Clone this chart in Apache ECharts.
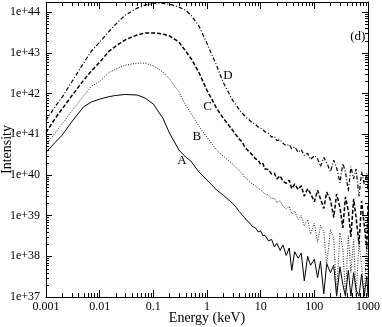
<!DOCTYPE html>
<html>
<head>
<meta charset="utf-8">
<script src="https://cdn.jsdelivr.net/npm/echarts@6/dist/echarts.min.js"></script>
<style>
  html, body { margin: 0; padding: 0; background: #fff; }
  #chart { width: 382px; height: 327px; }
</style>
</head>
<body>
<div id="chart"></div>
<script>
// energy grid (keV), shared by all four spectra
const energy = [
  0.001, 0.0015, 0.002, 0.003, 0.005, 0.007, 0.01, 0.015, 0.02, 0.03, 0.05,
  0.07, 0.1, 0.15, 0.2, 0.3, 0.4, 0.5, 0.7, 1, 1.5, 2,
  3, 3.5, 4, 4.5, 5, 5.5, 6, 7, 8, 9, 10, 11, 12, 14, 16, 18, 20, 23, 26,
  30, 34, 38, 43, 50, 57, 65, 75, 85, 100, 115, 130, 150, 170, 200, 230,
  260, 300, 340, 380, 430, 480, 540, 600, 680, 760, 850, 950, 1000
]

const curveA = [
  3.6e40, 6.4e40, 9.5e40, 2.0e41, 4.7e41, 6.2e41, 7.3e41, 8.4e41, 9.0e41, 9.5e41, 9.2e41,
  7.8e41, 5.5e41, 2.5e41, 1.07e41, 4.1e40, 2.75e40, 2.2e40, 1.2e40, 7.5e39, 4.3e39, 3.2e39,
  2.0e39, 1.6e39, 1.25e39, 1.05e39, 9.0e38, 7.6e38, 7.0e38, 5.4e38, 5.0e38, 4.0e38, 4.2e38,
  3.2e38, 3.3e38, 2.4e38, 2.6e38, 1.7e38, 2.1e38, 1.4e38, 1.9e38, 1.05e38, 1.6e38, 4.5e37,
  1.3e38, 9.0e37, 1.2e38, 2.5e37, 1.0e38, 6.0e37, 8.5e37, 3.0e37, 7.5e37, 1.2e37, 6.5e37,
  4.0e37, 6.0e37, 1.05e37, 5.5e37, 2.0e37, 1.05e37, 4.5e37, 1.05e37, 4.0e37, 1.5e37,
  1.05e37, 3.6e37, 1.05e37, 3.2e37, 1.05e37
]

const curveB = [
  5.4e40, 1.1e41, 1.8e41, 3.7e41, 8.7e41, 1.5e42, 2.0e42, 3.3e42, 4.0e42, 5.0e42, 5.6e42,
  5.6e42, 4.8e42, 3.4e42, 2.3e42, 1.1e42, 5.2e41, 3.3e41, 1.6e41, 8.5e40, 4.1e40, 2.9e40,
  1.85e40, 1.5e40, 1.25e40, 1.1e40, 8.9e39, 8.2e39, 7.2e39, 6.0e39, 5.4e39, 4.6e39, 4.3e39,
  3.8e39, 3.4e39, 3.2e39, 2.6e39, 2.7e39, 2.1e39, 2.3e39, 1.7e39, 1.5e39, 1.7e39, 1.1e39,
  1.3e39, 8.0e38, 1.0e39, 5.5e38, 8.0e38, 3.5e38, 6.5e38, 2.2e38, 5.8e38, 4.0e38, 6.0e37,
  4.6e38, 2.8e38, 1.1e37, 3.8e38, 1.5e38, 1.05e37, 3.2e38, 4.0e37, 2.6e38, 1.05e37,
  2.2e38, 6.0e37, 1.05e37, 1.9e38, 3.0e37
]

const curveC = [
  1.1e41, 2.5e41, 4.2e41, 8.7e41, 2.1e42, 3.6e42, 5.9e42, 1.1e43, 1.47e43, 2.1e43, 2.75e43,
  3.1e43, 3.1e43, 2.9e43, 2.6e43, 1.85e43, 1.1e43, 7.4e42, 3.4e42, 1.2e42, 4.4e41, 2.5e41,
  1.26e41, 9.5e40, 7.6e40, 6.5e40, 5.0e40, 4.3e40, 3.8e40, 3.1e40, 2.5e40, 2.3e40, 1.8e40,
  1.9e40, 1.4e40, 1.35e40, 1.05e40, 1.1e40, 8.0e39, 9.5e39, 7.0e39, 6.2e39, 7.4e39, 4.6e39,
  6.0e39, 4.4e39, 5.4e39, 3.0e39, 4.6e39, 3.5e39, 2.2e39, 4.2e39, 2.6e39, 1.5e39, 3.8e39,
  2.4e39, 9.0e38, 3.4e39, 1.6e39, 5.0e38, 2.9e39, 1.3e39, 3.0e38, 2.6e39, 9.0e38,
  2.0e38, 2.3e39, 6.0e38, 1.5e38, 1.9e39
]

const curveD = [
  2.2e41, 4.9e41, 8.2e41, 1.9e42, 5.6e42, 1.1e43, 1.85e43, 3.4e43, 5.1e43, 8.5e43, 1.26e44,
  1.49e44, 1.66e44, 1.66e44, 1.58e44, 1.33e44, 1.12e44, 8.5e43, 4.7e43, 1.7e43, 5.0e42, 1.9e42,
  6.9e41, 5.2e41, 4.0e41, 3.3e41, 2.9e41, 2.5e41, 2.3e41, 1.9e41, 1.75e41, 1.5e41, 1.4e41,
  1.3e41, 1.15e41, 1.05e41, 8.5e40, 9.0e40, 7.0e40, 7.4e40, 6.0e40, 5.2e40, 5.6e40, 4.4e40,
  4.9e40, 3.6e40, 4.2e40, 3.0e40, 3.4e40, 2.4e40, 3.0e40, 2.5e40, 1.6e40, 2.7e40, 2.0e40,
  1.2e40, 2.3e40, 1.5e40, 6.5e39, 1.9e40, 1.2e40, 4.0e39, 1.6e40, 8.0e39, 1.4e40,
  3.0e39, 1.2e40, 6.0e39, 1.1e40, 3.5e39
]

// curve tags and panel tag: [energy, intensity, text]
const tags = [
  [0.34, 2.2e40, 'A'],
  [0.65, 8.8e40, 'B'],
  [1.02, 4.7e41, 'C'],
  [2.45, 2.8e42, 'D'],
  [646, 2.5e43, '(d)']
]

const xMin = 0.001
const xMax = 1000
const yMin = 1e37
const yMax = 1.78e44

const font = 'Liberation Serif'

// minor tick positions for the log axes (2..9 in each decade)
const xMinor = []
for (let p = -3; p < 3; p++) {
  for (let m = 2; m <= 9; m++) xMinor.push(m * Math.pow(10, p))
}
const yMinor = []
for (let p = 37; p < 45; p++) {
  for (let m = 2; m <= 9; m++) {
    const v = m * Math.pow(10, p)
    if (v < yMax) yMinor.push(v)
  }
}

function isPow10(v) {
  const e = Math.log10(v)
  return Math.abs(e - Math.round(e)) < 1e-6
}

function xLabel(v) {
  if (!isPow10(v)) return ''
  return String(+v.toPrecision(3))
}

function yLabel(v) {
  if (!isPow10(v)) return ''
  return '1e+' + Math.round(Math.log10(v))
}

function makeLine(name, data, lineStyle) {
  return {
    name: name,
    type: 'line',
    xAxisIndex: 0,
    yAxisIndex: 0,
    data: energy.map((e, i) => [e, data[i]]),
    showSymbol: false,
    symbol: 'none',
    smooth: false,
    clip: true,
    lineStyle: Object.assign({ color: '#000', width: 1 }, lineStyle),
    animation: false,
    z: 3
  }
}

const tickStyle = { stroke: '#000', lineWidth: 1 }

const chart = echarts.init(document.getElementById('chart'), null, { renderer: 'canvas' })

chart.setOption({
  backgroundColor: '#fff',
  animation: false,
  grid: { left: 46, right: 14, top: 2, bottom: 30, containLabel: false, outerBoundsMode: 'none' },
  xAxis: [
    {
      type: 'log',
      min: xMin,
      max: xMax,
      logBase: 10,
      interval: 1,
      name: 'Energy (keV)',
      nameLocation: 'middle',
      nameGap: 14,
      nameMoveOverlap: false,
      nameTextStyle: { fontFamily: font, fontSize: 14, color: '#000' },
      axisLine: { show: true, lineStyle: { color: '#000', width: 1 } },
      axisTick: { show: true, inside: true, length: 7, lineStyle: { color: '#000' } },
      axisLabel: { fontFamily: font, fontSize: 12, color: '#000', margin: 4, formatter: xLabel },
      splitLine: { show: false }
    },
    {
      type: 'log',
      position: 'top',
      min: xMin,
      max: xMax,
      interval: 1,
      axisLine: { show: true, lineStyle: { color: '#000', width: 1 } },
      axisTick: { show: true, inside: true, length: 7, lineStyle: { color: '#000' } },
      axisLabel: { show: false },
      splitLine: { show: false }
    }
  ],
  yAxis: [
    {
      type: 'log',
      min: yMin,
      max: yMax,
      logBase: 10,
      interval: 1,
      name: 'Intensity',
      nameLocation: 'middle',
      nameGap: 32,
      nameMoveOverlap: false,
      nameTextStyle: { fontFamily: font, fontSize: 14, color: '#000' },
      axisLine: { show: true, lineStyle: { color: '#000', width: 1 } },
      axisTick: { show: true, inside: true, length: 6, lineStyle: { color: '#000' } },
      axisLabel: { fontFamily: font, fontSize: 12, color: '#000', margin: 6, formatter: yLabel },
      splitLine: { show: false }
    },
    {
      type: 'log',
      position: 'right',
      min: yMin,
      max: yMax,
      interval: 1,
      axisLine: { show: true, lineStyle: { color: '#000', width: 1 } },
      axisTick: { show: true, inside: true, length: 6, lineStyle: { color: '#000' } },
      axisLabel: { show: false },
      splitLine: { show: false }
    }
  ],
  series: [
    makeLine('A', curveA, { type: 'solid', width: 1 }),
    makeLine('B', curveB, { type: [1, 1.5], width: 1, color: '#222' }),
    makeLine('C', curveC, { type: [4, 2], width: 1.5 }),
    makeLine('D', curveD, { type: [4, 2, 1, 2], width: 1.2 }),
    {
      type: 'custom',
      name: 'xMinorTicks',
      data: xMinor.map(v => [v, yMin]),
      clip: false,
      silent: true,
      renderItem(params, api) {
        const x = api.value(0)
        const b = api.coord([x, yMin])
        const t = api.coord([x, yMax])
        const px = Math.round(b[0]) + 0.5
        return {
          type: 'group',
          children: [
            { type: 'line', shape: { x1: px, y1: b[1], x2: px, y2: b[1] - 4 }, style: tickStyle },
            { type: 'line', shape: { x1: px, y1: t[1], x2: px, y2: t[1] + 4 }, style: tickStyle }
          ]
        }
      },
      z: 4
    },
    {
      type: 'custom',
      name: 'yMinorTicks',
      data: yMinor.map(v => [xMin, v]),
      clip: false,
      silent: true,
      renderItem(params, api) {
        const y = api.value(1)
        const l = api.coord([xMin, y])
        const r = api.coord([xMax, y])
        const py = Math.round(l[1]) + 0.5
        return {
          type: 'group',
          children: [
            { type: 'line', shape: { x1: l[0], y1: py, x2: l[0] + 3, y2: py }, style: tickStyle },
            { type: 'line', shape: { x1: r[0], y1: py, x2: r[0] - 3, y2: py }, style: tickStyle }
          ]
        }
      },
      z: 4
    },
    {
      type: 'scatter',
      name: 'tags',
      data: tags,
      symbolSize: 0,
      silent: true,
      itemStyle: { opacity: 1, color: '#000' },
      label: {
        show: true,
        position: 'inside',
        formatter: p => p.data[2],
        fontFamily: font,
        fontSize: 13,
        color: '#000'
      },
      z: 5
    }
  ]
})
</script>
</body>
</html>
